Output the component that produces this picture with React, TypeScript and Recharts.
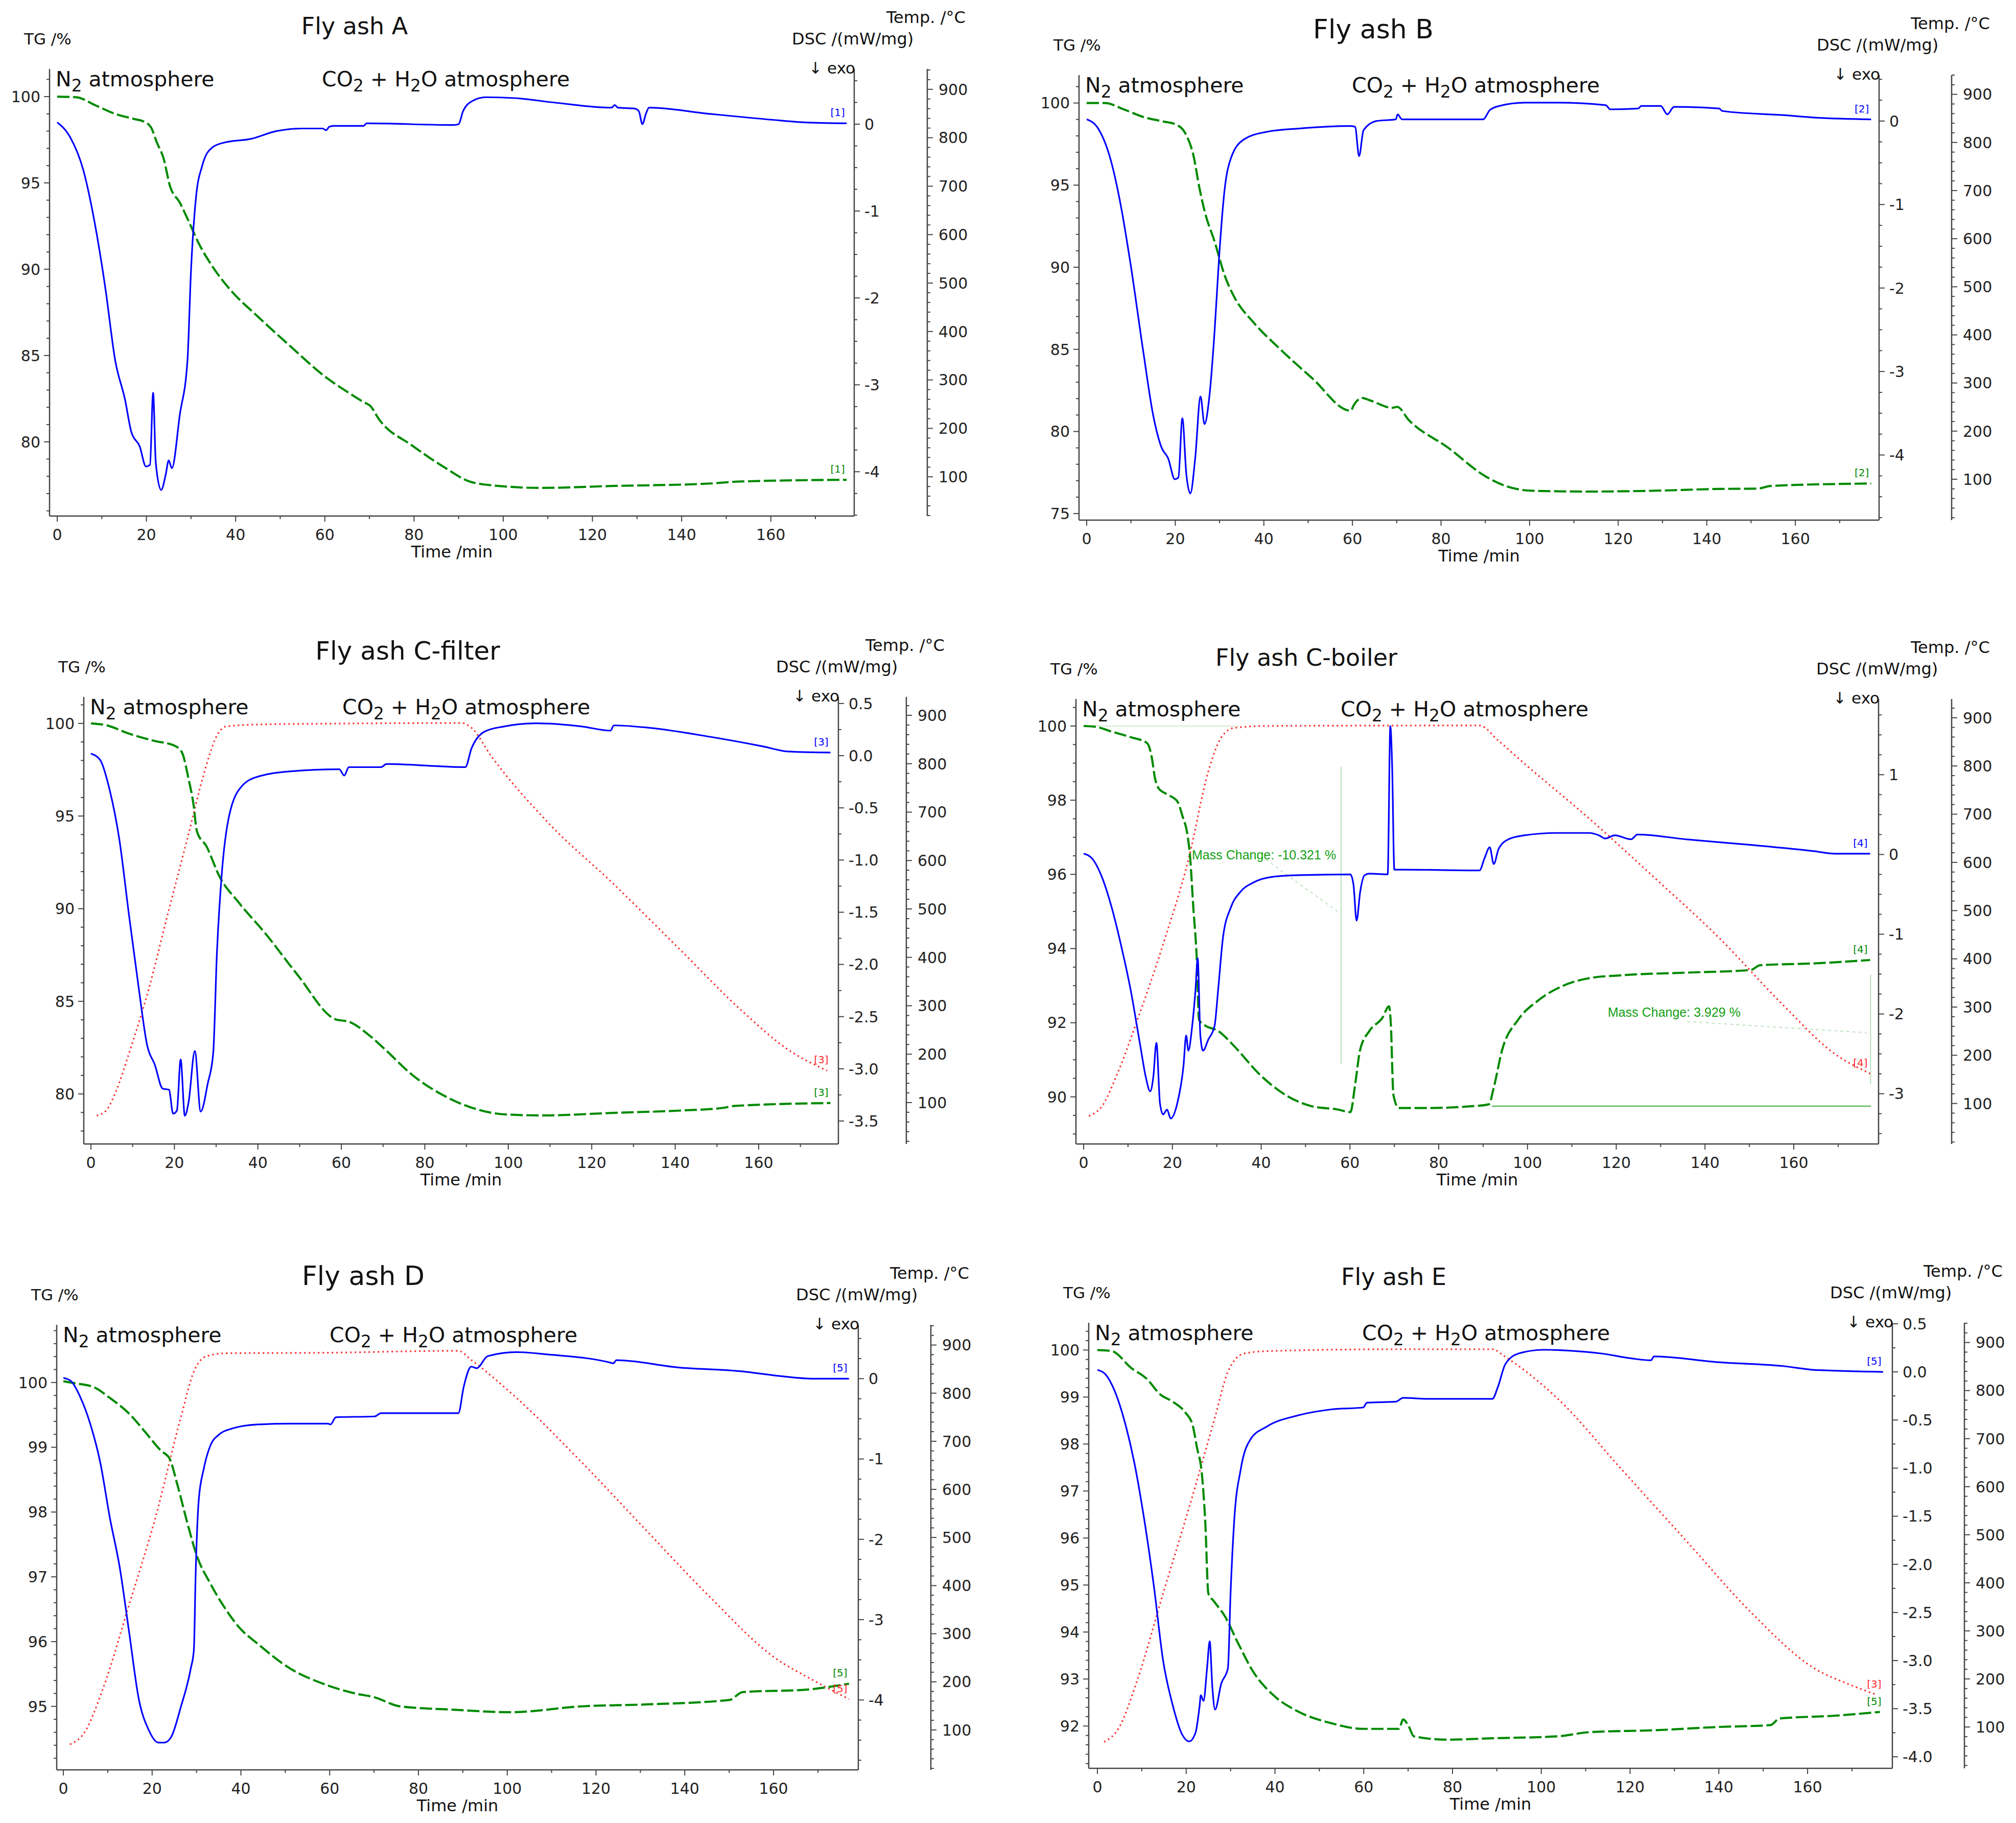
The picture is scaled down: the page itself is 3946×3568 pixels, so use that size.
import React from "react";
import { ComposedChart, Line, XAxis, YAxis, ReferenceLine, ReferenceDot } from "recharts";

const AXIS = "#444";
const GREEN = "#008a00";
const BLUE = "#0000ff";
const RED = "#ff2a2a";
const FONT = "'DejaVu Sans', Verdana, sans-serif";

// shared axes
const timeMajor = [0, 20, 40, 60, 80, 100, 120, 140, 160];
const tempMajor = [100, 200, 300, 400, 500, 600, 700, 800, 900];

// ---------- Fly ash A ----------
const tA_tg = [0, 4.3, 8.7, 13, 17.3, 19.5, 21, 22.4, 23.8, 25.3, 27.5, 29.6, 31.8, 34.7, 39, 44.8, 52, 60.7, 65, 68.7, 70.1, 72.3, 79.5, 86.7, 92.5, 98.3, 108.4, 124.3, 146, 153.2, 177];
const tgA = [100.0, 99.96, 99.48, 99.0, 98.7, 98.54, 98.23, 97.3, 96.46, 94.8, 93.85, 92.7, 91.46, 90.2, 88.75, 87.3, 85.6, 83.65, 82.9, 82.3, 82.1, 81.25, 79.8, 78.54, 77.7, 77.46, 77.33, 77.44, 77.58, 77.7, 77.8];
const tA_dsc = [0, 2.9, 5.8, 8.7, 10.8, 13, 15.2, 16.6, 18.5, 19.9, 20.8, 21.5, 22.1, 23.3, 24.3, 25, 25.7, 27.5, 29.2, 30, 31.1, 32.5, 34.7, 37.6, 43.4, 49.1, 54.9, 59.5, 60.3, 61, 62, 68.7, 69.4, 88.9, 90, 91, 93.2, 96.1, 102.6, 111.3, 124.3, 125, 125.7, 129.4, 130.4, 131.2, 132, 132.7, 146, 160.4, 167.7, 177];
const dscA = [0.02, -0.15, -0.52, -1.22, -1.89, -2.72, -3.17, -3.54, -3.71, -3.94, -3.92, -3.09, -3.9, -4.21, -4.04, -3.87, -3.96, -3.34, -2.72, -1.68, -0.85, -0.48, -0.27, -0.21, -0.17, -0.08, -0.05, -0.05, -0.07, -0.03, -0.02, -0.02, 0.01, -0.01, 0.0, 0.15, 0.27, 0.31, 0.3, 0.25, 0.19, 0.22, 0.19, 0.18, 0.15, 0.0, 0.12, 0.19, 0.12, 0.05, 0.02, 0.01];

// ---------- Fly ash B ----------
const tB_tg = [0, 4.1, 8.5, 12.8, 17.2, 20.1, 22.3, 24.2, 25.4, 26.7, 28.9, 31.1, 33.3, 37.7, 43.5, 50.8, 59.6, 60.3, 62.2, 63.9, 69, 70.1, 72.7, 81.5, 90.2, 94.6, 100.4, 113.6, 128.2, 142.8, 151.5, 154.4, 177.1];
const tgB = [100.0, 100.0, 99.6, 99.15, 98.88, 98.7, 98.14, 96.69, 94.9, 93.34, 91.55, 89.54, 88.2, 86.63, 85.06, 83.27, 81.26, 81.6, 82.04, 81.9, 81.44, 81.5, 80.7, 79.03, 77.24, 76.68, 76.39, 76.34, 76.39, 76.5, 76.52, 76.68, 76.83];
const tB_dsc = [0, 2.6, 5.5, 7.7, 9.9, 12.8, 15, 16.9, 18.4, 19.9, 20.7, 21.6, 22.5, 23.4, 24.5, 25.7, 26.6, 27.7, 28.9, 29.9, 31.1, 32.6, 35.5, 40.6, 47.9, 59.6, 60.6, 61.5, 62.5, 65.4, 69.8, 70.2, 71.2, 89.5, 91, 93.1, 99, 106.3, 117.2, 118.2, 124.5, 125.2, 129.6, 131.1, 132.6, 142.8, 143.5, 157.4, 164.7, 177.1];
const dscB = [0.02, -0.09, -0.48, -1.01, -1.71, -2.77, -3.52, -3.91, -4.04, -4.29, -4.27, -3.56, -4.23, -4.46, -4.04, -3.3, -3.63, -3.3, -2.5, -1.63, -0.84, -0.44, -0.22, -0.13, -0.09, -0.06, -0.07, -0.42, -0.11, 0.0, 0.02, 0.08, 0.02, 0.02, 0.13, 0.18, 0.22, 0.22, 0.19, 0.14, 0.15, 0.18, 0.18, 0.08, 0.17, 0.15, 0.12, 0.07, 0.04, 0.02];

// ---------- Fly ash C-filter ----------
const tCf_tg = [0, 3.7, 9.1, 15.3, 20, 21.8, 23.4, 24.6, 25.4, 27.7, 30.8, 35.5, 41.7, 49.4, 58.7, 61.8, 66.5, 70.3, 77.3, 85, 92.8, 99, 108.3, 125.3, 140.8, 151.6, 154, 177.2];
const tgCf = [100.0, 99.9, 99.45, 99.05, 98.8, 98.44, 97.0, 95.6, 94.17, 93.36, 91.74, 90.31, 88.69, 86.46, 84.02, 83.9, 83.2, 82.44, 80.97, 79.86, 79.15, 78.9, 78.84, 78.98, 79.1, 79.25, 79.35, 79.51];
const tCf_dsc = [0, 2.2, 4.5, 6.8, 9.1, 11.5, 13.5, 15.3, 17.2, 18.7, 19.7, 20.6, 21.5, 22.5, 23.4, 24.9, 26.3, 28, 29.3, 30.2, 31.3, 33.1, 36.2, 40.1, 47.9, 59.5, 60.7, 61.8, 69.5, 70.8, 89.7, 91.2, 94.3, 99, 106.7, 117.6, 124.5, 125.3, 133, 148.5, 160.9, 167.1, 177.2];
const dscCf = [0.02, -0.04, -0.33, -0.8, -1.52, -2.24, -2.78, -2.96, -3.19, -3.2, -3.43, -3.4, -2.91, -3.45, -3.32, -2.83, -3.41, -3.14, -2.85, -1.88, -1.16, -0.58, -0.29, -0.2, -0.15, -0.13, -0.19, -0.11, -0.11, -0.08, -0.11, 0.07, 0.23, 0.28, 0.31, 0.28, 0.24, 0.29, 0.27, 0.18, 0.09, 0.04, 0.03];
const tCf_temp = [1.4, 3.7, 6, 9.1, 13.8, 18.4, 23.1, 27, 30, 32.4, 40.1, 60.3, 88.9, 91.2, 95.9, 109.8, 125.3, 140.8, 156.3, 167.1, 176.4];
const tempCf = [73, 84, 123, 201, 333, 489, 645, 777, 855, 877, 881, 883, 884, 874, 816, 676, 551, 419, 287, 209, 166];

// ---------- Fly ash C-boiler ----------
const tCb_tg = [0, 2.6, 6.3, 10.6, 14.3, 15.3, 16.1, 16.9, 18.6, 21.1, 22.3, 23.4, 24, 24.7, 25.5, 26, 27.3, 30.3, 33.9, 39.7, 45.5, 51.3, 57.2, 60.1, 61.2, 62.3, 64.4, 67.3, 68.8, 69.2, 69.8, 71, 77.5, 87.7, 91.3, 92.4, 94.3, 97.9, 102.3, 108.1, 113.9, 121.2, 135.7, 150.3, 152.4, 164.8, 177.2];
const tgCb = [100.0, 99.98, 99.85, 99.7, 99.54, 99.19, 98.58, 98.32, 98.17, 97.97, 97.56, 97.06, 96.45, 95.13, 93.7, 92.08, 91.93, 91.78, 91.37, 90.6, 90.05, 89.75, 89.66, 89.59, 90.36, 91.27, 91.78, 92.13, 92.44, 92.0, 90.05, 89.7, 89.7, 89.75, 89.8, 90.25, 91.27, 92.08, 92.59, 93.0, 93.2, 93.28, 93.35, 93.42, 93.55, 93.6, 93.69];
const tCb_dsc = [0, 1.9, 4.1, 6.3, 8.4, 10.6, 12.8, 14, 15, 15.7, 16.4, 17.2, 17.9, 18.8, 19.6, 21.1, 22.5, 23.1, 23.6, 24.4, 25.2, 25.7, 26.3, 26.9, 28.1, 29.5, 30.3, 31.4, 33.2, 35.3, 38.3, 42.6, 48.4, 60.1, 60.8, 61.5, 62.3, 63.3, 64.4, 68.5, 69.1, 69.5, 70, 71.7, 89.2, 90.3, 91.5, 92.4, 93.5, 95.7, 99.3, 106.6, 113.9, 116.1, 117.5, 119.7, 123.3, 124.8, 135.7, 150.3, 164.8, 169.2, 177.2];
const dscCb = [0.01, -0.05, -0.28, -0.66, -1.13, -1.7, -2.41, -2.79, -2.97, -2.79, -2.36, -3.12, -3.26, -3.2, -3.31, -3.12, -2.65, -2.27, -2.46, -2.18, -1.7, -1.3, -2.27, -2.46, -2.32, -2.15, -1.7, -1.04, -0.66, -0.47, -0.35, -0.28, -0.26, -0.25, -0.38, -0.83, -0.47, -0.26, -0.24, -0.25, 1.61, 1.13, -0.19, -0.19, -0.2, -0.05, 0.09, -0.12, 0.07, 0.19, 0.24, 0.27, 0.27, 0.24, 0.2, 0.24, 0.19, 0.25, 0.19, 0.12, 0.04, 0.01, 0.01];
const tCb_temp = [1.2, 4.1, 7.7, 12.1, 17.9, 23.7, 28.1, 31, 33.9, 41.2, 89.2, 93.5, 99.3, 113.9, 128.4, 143, 157.5, 169.2, 177.2];
const tempCb = [74, 94, 164, 273, 430, 609, 789, 859, 879, 883, 884, 852, 805, 691, 570, 445, 305, 203, 162];

// ---------- Fly ash D ----------
const tD_tg = [0, 2.5, 6.8, 10.5, 14.8, 18.5, 22.1, 23.9, 25.7, 27.9, 30.1, 33, 35.9, 39.6, 43.9, 51.2, 58.5, 65.7, 70.1, 75.9, 87.6, 100.7, 116.7, 131.2, 150.1, 153, 167.6, 177];
const tgD = [100.02, 99.99, 99.93, 99.76, 99.52, 99.23, 98.94, 98.83, 98.42, 97.84, 97.32, 96.91, 96.57, 96.22, 95.96, 95.58, 95.35, 95.2, 95.14, 95.0, 94.95, 94.91, 95.0, 95.03, 95.1, 95.22, 95.26, 95.35];
const tD_dsc = [0, 1.7, 3.9, 6.1, 8.3, 10.5, 12.7, 14.8, 17, 19.2, 21.4, 22.8, 24.3, 26.5, 28.7, 29.4, 29.8, 30.5, 31.6, 33, 35.2, 38.1, 43.9, 51.2, 59.6, 60.2, 61.4, 70.1, 71.6, 89, 90.2, 91.9, 93.1, 95.6, 102.1, 109.4, 123.2, 123.9, 124.6, 138.5, 153, 160.3, 169, 177];
const dscD = [0.01, -0.03, -0.24, -0.57, -1.04, -1.74, -2.35, -3.15, -3.99, -4.37, -4.53, -4.53, -4.46, -4.08, -3.61, -3.38, -2.44, -1.51, -1.13, -0.85, -0.69, -0.62, -0.57, -0.56, -0.56, -0.57, -0.48, -0.47, -0.43, -0.43, -0.1, 0.15, 0.13, 0.28, 0.33, 0.3, 0.2, 0.19, 0.23, 0.14, 0.09, 0.04, 0.0, 0.0];
const tD_temp = [1.5, 4.7, 9, 14.8, 20.7, 26.5, 29.4, 32.3, 36.7, 58.5, 89, 91.9, 102.1, 116.7, 131.2, 145.7, 160.3, 169, 177];
const tempD = [70, 94, 188, 360, 540, 751, 845, 877, 883, 884, 888, 869, 790, 657, 516, 376, 250, 203, 164];

// ---------- Fly ash E ----------
const tE_tg = [0, 3.2, 7.6, 11.2, 14.1, 17, 19.9, 21.4, 22.4, 23.6, 24.3, 25, 26.2, 28.7, 31.6, 35.2, 39.6, 45.4, 52.7, 59.9, 67.9, 68.9, 70.1, 71.3, 78.8, 89, 103.6, 110.8, 125.4, 139.9, 151.6, 153.7, 166.1, 176.3];
const tgE = [100.0, 99.98, 99.62, 99.38, 99.06, 98.9, 98.66, 98.42, 97.94, 97.3, 96.34, 94.82, 94.66, 94.34, 93.78, 93.14, 92.66, 92.3, 92.06, 91.94, 91.94, 92.14, 92.0, 91.78, 91.71, 91.74, 91.78, 91.87, 91.91, 91.98, 92.02, 92.16, 92.22, 92.3];
const tE_dsc = [0, 1.7, 3.9, 6.1, 8.3, 10.5, 12.7, 14.8, 17, 18.9, 20.7, 22.1, 23, 23.3, 23.9, 24.7, 25.3, 25.9, 26.5, 27.9, 29.4, 30, 30.8, 32.3, 34.5, 38.1, 45.4, 52.7, 59.9, 60.7, 67.2, 68.9, 74.5, 89, 90.2, 91.9, 94.8, 100.7, 106.5, 113.7, 120.3, 124.7, 125.4, 139.9, 154.5, 161.7, 177];
const dscE = [0.02, -0.02, -0.2, -0.51, -0.94, -1.52, -2.22, -3.0, -3.47, -3.75, -3.84, -3.75, -3.48, -3.36, -3.42, -3.08, -2.8, -3.28, -3.51, -3.24, -3.08, -2.3, -1.56, -1.01, -0.7, -0.57, -0.45, -0.39, -0.37, -0.32, -0.31, -0.27, -0.28, -0.28, -0.16, 0.08, 0.19, 0.23, 0.22, 0.19, 0.14, 0.12, 0.16, 0.1, 0.06, 0.02, 0.0];
const tE_temp = [1.5, 4.7, 9, 14.8, 20.7, 26.5, 29.4, 33, 38.1, 67.2, 89, 91.9, 103.6, 118.1, 132.7, 147.2, 161.7, 169, 175.6];
const tempE = [69, 96, 198, 378, 558, 745, 839, 877, 882, 886, 886, 870, 784, 636, 487, 339, 221, 190, 167];

// major tick labels per panel
const tgMajorA = [80, 85, 90, 95, 100];
const tgMajorB = [75, 80, 85, 90, 95, 100];
const tgMajorCf = [80, 85, 90, 95, 100];
const tgMajorCb = [90, 92, 94, 96, 98, 100];
const tgMajorD = [95, 96, 97, 98, 99, 100];
const tgMajorE = [92, 93, 94, 95, 96, 97, 98, 99, 100];
const dscMajorInt = [-4, -3, -2, -1, 0];
const dscMajorCf = [-3.5, -3, -2.5, -2, -1.5, -1, -0.5, 0, 0.5];
const dscMajorCb = [-3, -2, -1, 0, 1];
const dscMajorE = [-4, -3.5, -3, -2.5, -2, -1.5, -1, -0.5, 0, 0.5];

const pts = (ts: number[], vs: number[]) => ts.map((t, i) => ({ t, v: vs[i] }));

function grid(a: number, b: number, step: number) {
  const out: number[] = [];
  for (let k = Math.ceil(a / step - 1e-9); k * step <= b + 1e-9; k++) {
    out.push(Math.round(k * step * 1e4) / 1e4);
  }
  return out;
}

type Side = "left" | "right" | "bottom";

function renderTick(p: any, side: Side, majors: number[], digits: number, gap: number) {
  const { x, y, payload } = p;
  const v = Number(payload.value);
  const isMajor = majors.some((m) => Math.abs(m - v) < 1e-6);
  const len = isMajor ? 11 : 6;
  const txt = isMajor ? (digits ? v.toFixed(digits) : String(Math.round(v))) : "";
  const font = { fontFamily: FONT, fontSize: 30, fill: "#222" };
  if (side === "left") {
    return (
      <g>
        <line x1={x} y1={y} x2={x - len} y2={y} stroke={AXIS} strokeWidth={2} />
        {txt && <text x={x - gap} y={y} dy="0.36em" textAnchor="end" {...font}>{txt}</text>}
      </g>
    );
  }
  if (side === "right") {
    return (
      <g>
        <line x1={x} y1={y} x2={x + len} y2={y} stroke={AXIS} strokeWidth={2} />
        {txt && <text x={x + gap} y={y} dy="0.36em" textAnchor="start" {...font}>{txt}</text>}
      </g>
    );
  }
  return (
    <g>
      <line x1={x} y1={y} x2={x} y2={y + len} stroke={AXIS} strokeWidth={2} />
      {txt && <text x={x} y={y + gap} dy="0.36em" textAnchor="middle" {...font}>{txt}</text>}
    </g>
  );
}

const sub = { fontSize: "0.8em", verticalAlign: "baseline", position: "relative" as const, top: "0.32em" };

function Txt(props: { x: number; y: number; size: number; anchor?: "start" | "middle" | "end"; color?: string; family?: string; children: React.ReactNode }) {
  const { x, y, size, anchor = "start", color = "#111", family = FONT, children } = props;
  const tx = anchor === "middle" ? "-50%" : anchor === "end" ? "-100%" : "0";
  return (
    <div style={{ position: "absolute", left: x, top: y, fontSize: size, fontFamily: family, color, lineHeight: 1, whiteSpace: "nowrap", transform: `translate(${tx}, -50%)` }}>
      {children}
    </div>
  );
}

type PanelCfg = {
  title: string; titleX: number; titleY: number; titleSize: number;
  L: number; T: number; R: number; TX: number; B: number; co2: number;
  x: [number, number]; tg: [number, number]; tgMajor: number[]; tgStep: number;
  dsc: [number, number]; dscMajor: number[]; dscDigits: number;
  temp: [number, number];
  tgData: { t: number; v: number }[]; dscData: { t: number; v: number }[]; tempData: { t: number; v: number }[] | null;
  tag: string; tagTemp?: string; extras?: boolean;
};

const panels: PanelCfg[] = [
  { title: "Fly ash A", titleX: 694, titleY: 51, titleSize: 46, L: 97, T: 135, R: 1672, TX: 1815, B: 1010, co2: 533,
    x: [-1.72, 178.7], tg: [75.7, 101.6], tgMajor: tgMajorA, tgStep: 1, dsc: [-4.51, 0.635], dscMajor: dscMajorInt, dscDigits: 0,
    temp: [19, 942], tgData: pts(tA_tg, tgA), dscData: pts(tA_dsc, dscA), tempData: null, tag: "[1]" },
  { title: "Fly ash B", titleX: 2688, titleY: 57, titleSize: 52, L: 2112, T: 147, R: 3678, TX: 3820, B: 1018, co2: 534,
    x: [-1.73, 178.9], tg: [74.6, 101.7], tgMajor: tgMajorB, tgStep: 1, dsc: [-4.78, 0.55], dscMajor: dscMajorInt, dscDigits: 0,
    temp: [15, 940], tgData: pts(tB_tg, tgB), dscData: pts(tB_dsc, dscB), tempData: null, tag: "[2]" },
  { title: "Fly ash C-filter", titleX: 798, titleY: 1274, titleSize: 50, L: 164, T: 1364, R: 1641, TX: 1774, B: 2239, co2: 506,
    x: [-1.71, 179.1], tg: [77.3, 101.43], tgMajor: tgMajorCf, tgStep: 1, dsc: [-3.72, 0.563], dscMajor: dscMajorCf, dscDigits: 1,
    temp: [14.5, 938], tgData: pts(tCf_tg, tgCf), dscData: pts(tCf_dsc, dscCf), tempData: pts(tCf_temp, tempCf), tag: "[3]", tagTemp: "[3]" },
  { title: "Fly ash C-boiler", titleX: 2557, titleY: 1287, titleSize: 46, L: 2106, T: 1368, R: 3677, TX: 3820, B: 2239, co2: 518,
    x: [-1.73, 179.1], tg: [88.73, 100.73], tgMajor: tgMajorCb, tgStep: 0.5, dsc: [-3.63, 1.95], dscMajor: dscMajorCb, dscDigits: 0,
    temp: [16, 939], tgData: pts(tCb_tg, tgCb), dscData: pts(tCb_dsc, dscCb), tempData: pts(tCb_temp, tempCb), tag: "[4]", tagTemp: "[4]", extras: true },
  { title: "Fly ash D", titleX: 711, titleY: 2497, titleSize: 52, L: 111, T: 2593, R: 1680, TX: 1822, B: 3464, co2: 534,
    x: [-1.5, 179.1], tg: [94.02, 100.89], tgMajor: tgMajorD, tgStep: 0.2, dsc: [-4.87, 0.67], dscMajor: dscMajorInt, dscDigits: 0,
    temp: [17, 942], tgData: pts(tD_tg, tgD), dscData: pts(tD_dsc, dscD), tempData: pts(tD_temp, tempD), tag: "[5]", tagTemp: "[5]" },
  { title: "Fly ash E", titleX: 2728, titleY: 2499, titleSize: 46, L: 2131, T: 2589, R: 3704, TX: 3845, B: 3461, co2: 535,
    x: [-1.96, 179.1], tg: [91.1, 100.58], tgMajor: tgMajorE, tgStep: 0.2, dsc: [-4.12, 0.51], dscMajor: dscMajorE, dscDigits: 1,
    temp: [14, 941], tgData: pts(tE_tg, tgE), dscData: pts(tE_dsc, dscE), tempData: pts(tE_temp, tempE), tag: "[5]", tagTemp: "[3]" },
];

const LW = 96;
const TW = 100;
const MT = 10;
const XH = 80;

function Panel({ p }: { p: PanelCfg }) {
  const dscW = p.TX - p.R;
  const w = LW + (p.R - p.L) + dscW + TW;
  const h = MT + (p.B - p.T) + XH;
  const axisLine = { stroke: AXIS, strokeWidth: 2.5 };
  const last = (d: { t: number; v: number }[]) => d[d.length - 1];
  const tagLabel = (value: string, fill: string) => ({ value, position: "top" as const, offset: 14, fill, fontSize: 20, fontFamily: FONT });
  return (
    <>
      <div style={{ position: "absolute", left: p.L - LW, top: p.T - MT }}>
        <ComposedChart width={w} height={h} margin={{ top: MT, right: 0, bottom: 0, left: 0 }}>
          <XAxis xAxisId="t" dataKey="t" type="number" domain={p.x} allowDataOverflow ticks={grid(0, 170, 10)} interval={0}
            height={XH} tickSize={0} tickMargin={0} tickLine={false} axisLine={axisLine}
            tick={(tp: any) => renderTick(tp, "bottom", timeMajor, 0, 36)} />
          <YAxis yAxisId="tg" orientation="left" type="number" domain={p.tg} allowDataOverflow width={LW}
            ticks={grid(p.tg[0], p.tg[1], p.tgStep)} interval={0} tickSize={0} tickMargin={0} tickLine={false} axisLine={axisLine}
            tick={(tp: any) => renderTick(tp, "left", p.tgMajor, 0, 18)} />
          <YAxis yAxisId="dsc" orientation="right" type="number" domain={p.dsc} allowDataOverflow width={dscW}
            ticks={grid(p.dsc[0], p.dsc[1], 0.25)} interval={0} tickSize={0} tickMargin={0} tickLine={false} axisLine={axisLine}
            tick={(tp: any) => renderTick(tp, "right", p.dscMajor, p.dscDigits, 20)} />
          <YAxis yAxisId="temp" orientation="right" type="number" domain={p.temp} allowDataOverflow width={TW}
            ticks={grid(p.temp[0], p.temp[1], 20)} interval={0} tickSize={0} tickMargin={0} tickLine={false} axisLine={axisLine}
            tick={(tp: any) => renderTick(tp, "right", tempMajor, 0, 22)} />

          {p.extras && (
            <ReferenceLine xAxisId="t" yAxisId="tg" segment={[{ x: 0, y: 100 }, { x: 35, y: 100 }]} stroke="#d4ead4" strokeWidth={2} />
          )}
          {p.extras && (
            <ReferenceLine xAxisId="t" yAxisId="tg" segment={[{ x: 58, y: 98.9 }, { x: 58, y: 90.9 }]} stroke="#b9ddb9" strokeWidth={2} />
          )}
          {p.extras && (
            <ReferenceLine xAxisId="t" yAxisId="tg" segment={[{ x: 41, y: 96.4 }, { x: 57.8, y: 94.95 }]} stroke="#c2e2c2" strokeWidth={2} strokeDasharray="6 6" />
          )}
          {p.extras && (
            <ReferenceLine xAxisId="t" yAxisId="tg" segment={[{ x: 92, y: 89.75 }, { x: 177.4, y: 89.75 }]} stroke="#5cb85c" strokeWidth={2.5} />
          )}
          {p.extras && (
            <ReferenceLine xAxisId="t" yAxisId="tg" segment={[{ x: 136, y: 92.03 }, { x: 176.4, y: 91.73 }]} stroke="#c2e2c2" strokeWidth={2} strokeDasharray="6 6" />
          )}
          {p.extras && (
            <ReferenceLine xAxisId="t" yAxisId="tg" segment={[{ x: 177.3, y: 93.3 }, { x: 177.3, y: 90.35 }]} stroke="#b9ddb9" strokeWidth={2} />
          )}

          {p.tempData && (
            <Line xAxisId="t" yAxisId="temp" data={p.tempData} dataKey="v" type="monotone" stroke={RED} strokeWidth={3.2}
              strokeDasharray="3 6" dot={false} activeDot={false} isAnimationActive={false} />
          )}
          <Line xAxisId="t" yAxisId="tg" data={p.tgData} dataKey="v" type="monotone" stroke={GREEN} strokeWidth={4.2}
            strokeDasharray="24 7" dot={false} activeDot={false} isAnimationActive={false} />
          <Line xAxisId="t" yAxisId="dsc" data={p.dscData} dataKey="v" type="monotone" stroke={BLUE} strokeWidth={3.2}
            dot={false} activeDot={false} isAnimationActive={false} />

          <ReferenceDot xAxisId="t" yAxisId="dsc" x={175} y={last(p.dscData).v} r={0} stroke="none" label={tagLabel(p.tag, BLUE)} />
          <ReferenceDot xAxisId="t" yAxisId="tg" x={175} y={last(p.tgData).v} r={0} stroke="none" label={tagLabel(p.tag, GREEN)} />
          {p.tempData && (
            <ReferenceDot xAxisId="t" yAxisId="temp" x={175} y={last(p.tempData).v} r={0} stroke="none" label={tagLabel(p.tagTemp || p.tag, RED)} />
          )}
        </ComposedChart>
      </div>

      <Txt x={p.titleX} y={p.titleY} size={p.titleSize} anchor="middle">{p.title}</Txt>
      <Txt x={p.L - 50} y={p.T - 59} size={31}>TG /%</Txt>
      <Txt x={p.R - 122} y={p.T - 59} size={32}>DSC /(mW/mg)</Txt>
      <Txt x={p.TX - 80} y={p.T - 101} size={32}>Temp. /°C</Txt>
      <Txt x={p.R + 2} y={p.T - 2} size={31} anchor="end">↓ exo</Txt>
      <Txt x={p.L + 12} y={p.T + 20} size={41}>N<span style={sub}>2</span> atmosphere</Txt>
      <Txt x={p.L + p.co2} y={p.T + 20} size={41}>CO<span style={sub}>2</span> + H<span style={sub}>2</span>O atmosphere</Txt>
      <Txt x={(p.L + p.R) / 2} y={p.B + 70} size={32} anchor="middle">Time /min</Txt>
      {p.extras && (
        <>
          <Txt x={2333} y={1673} size={25} color="#14a014" family="'Liberation Sans', Arial, sans-serif">Mass Change: -10.321 %</Txt>
          <Txt x={3147} y={1981} size={25} color="#14a014" family="'Liberation Sans', Arial, sans-serif">Mass Change: 3.929 %</Txt>
        </>
      )}
    </>
  );
}

export default function App() {
  return (
    <div style={{ position: "absolute", left: 0, top: 0, width: 3946, height: 3568, background: "#fff", fontFamily: FONT }}>
      {panels.map((p) => (
        <Panel key={p.title} p={p} />
      ))}
    </div>
  );
}
